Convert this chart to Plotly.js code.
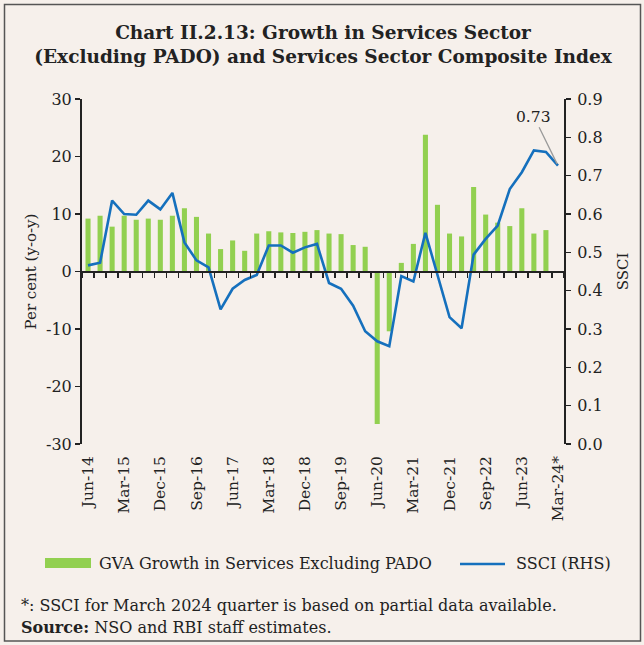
<!DOCTYPE html>
<html>
<head>
<meta charset="utf-8">
<script src="https://cdn.plot.ly/plotly-3.0.1.min.js"></script>
<style>
  html, body { margin: 0; padding: 0; background: #F6F0EB; }
  #chart { width: 644px; height: 645px; }
</style>
</head>
<body>
<div id="chart"></div>
<script>
// quarters, Jun-14 to Mar-24
var quarters = [
  'Jun-14', 'Sep-14', 'Dec-14', 'Mar-15', 'Jun-15', 'Sep-15', 'Dec-15', 'Mar-16',
  'Jun-16', 'Sep-16', 'Dec-16', 'Mar-17', 'Jun-17', 'Sep-17', 'Dec-17', 'Mar-18',
  'Jun-18', 'Sep-18', 'Dec-18', 'Mar-19', 'Jun-19', 'Sep-19', 'Dec-19', 'Mar-20',
  'Jun-20', 'Sep-20', 'Dec-20', 'Mar-21', 'Jun-21', 'Sep-21', 'Dec-21', 'Mar-22',
  'Jun-22', 'Sep-22', 'Dec-22', 'Mar-23', 'Jun-23', 'Sep-23', 'Dec-23', 'Mar-24'
];

// GVA growth in services excl. PADO (per cent, y-o-y); no bar for Mar-24
var gvaGrowth = [
  9.2, 9.7, 7.8, 9.7, 9.0, 9.2, 9.0, 9.7,
  11.0, 9.5, 6.6, 3.9, 5.4, 3.6, 6.6, 7.0,
  6.8, 6.7, 6.9, 7.2, 6.6, 6.5, 4.6, 4.3,
  -26.5, -10.4, 1.5, 4.8, 23.8, 11.6, 6.6, 6.1,
  14.7, 9.9, 8.5, 7.9, 11.0, 6.6, 7.2, null
];

// services sector composite index (RHS)
var ssci = [
  0.466, 0.473, 0.635, 0.600, 0.598, 0.635, 0.612, 0.655,
  0.526, 0.479, 0.461, 0.351, 0.405, 0.428, 0.441, 0.518,
  0.518, 0.499, 0.513, 0.522, 0.420, 0.405, 0.361, 0.294,
  0.268, 0.255, 0.438, 0.424, 0.551, 0.442, 0.331, 0.302,
  0.494, 0.535, 0.570, 0.665, 0.709, 0.766, 0.762, 0.726
];

var tickQuarters = ['Jun-14', 'Mar-15', 'Dec-15', 'Sep-16', 'Jun-17', 'Mar-18', 'Dec-18',
  'Sep-19', 'Jun-20', 'Mar-21', 'Dec-21', 'Sep-22', 'Jun-23', 'Mar-24'];
var tickLabels = ['Jun-14', 'Mar-15', 'Dec-15', 'Sep-16', 'Jun-17', 'Mar-18', 'Dec-18',
  'Sep-19', 'Jun-20', 'Mar-21', 'Dec-21', 'Sep-22', 'Jun-23', 'Mar-24*'];

// left axis ticks, written with a plain hyphen like the original
var leftTicks = [-30, -20, -10, 0, 10, 20, 30];
var leftTickText = ['-30', '-20', '-10', '0', '10', '20', '30'];

var green = '#92D050';
var blue = '#1570BD';
var ink = '#222222';
var serif = 'DejaVu Serif, serif';

// plot area in pixels, used to place the decorations
var L = 82, R = 80, T = 99, B = 201, W = 644, H = 645;
function px(x) { return (x - L) / (W - L - R); }
function py(y) { return (H - B - y) / (H - T - B); }

var traces = [
  {
    type: 'bar',
    x: quarters,
    y: gvaGrowth,
    width: 0.42,
    marker: {color: green},
    name: 'GVA Growth in Services Excluding PADO',
    showlegend: false,
    xaxis: 'x',
    yaxis: 'y'
  },
  {
    type: 'scatter',
    mode: 'lines',
    x: quarters,
    y: ssci,
    line: {color: blue, width: 2.6},
    name: 'SSCI (RHS)',
    showlegend: false,
    xaxis: 'x2',
    yaxis: 'y2'
  }
];

var tickFont = {family: serif, size: 16, color: ink};
var textFont = {family: serif, size: 16, color: ink};

var layout = {
  width: W,
  height: H,
  margin: {l: L, r: R, t: T, b: B},
  paper_bgcolor: '#F6F0EB',
  plot_bgcolor: '#F6F0EB',
  showlegend: false,
  title: {
    text: 'Chart II.2.13: Growth in Services Sector<br>(Excluding PADO) and Services Sector Composite Index',
    font: {family: serif, size: 18.5, color: ink, weight: 'bold'},
    x: 0.5,
    xref: 'paper',
    xanchor: 'center',
    y: 1 - 39 / H,
    yref: 'container',
    yanchor: 'middle'
  },
  xaxis: {
    type: 'category',
    range: [-0.5, 39.5],
    tickmode: 'array',
    tickvals: tickQuarters,
    ticktext: tickLabels,
    tickangle: -90,
    ticks: '',
    ticklabelstandoff: 8,
    showline: false,
    showgrid: false,
    zeroline: false,
    tickfont: {family: serif, size: 15.5, color: ink},
    fixedrange: true
  },
  xaxis2: {
    type: 'category',
    overlaying: 'x',
    anchor: 'free',
    position: 0.5,
    range: [-0.5, 39.5],
    tickmode: 'linear',
    dtick: 1,
    tickson: 'boundaries',
    ticks: 'outside',
    ticklen: 5,
    tickwidth: 1.5,
    tickcolor: ink,
    showticklabels: false,
    showline: true,
    linecolor: ink,
    linewidth: 2,
    showgrid: false,
    zeroline: false
  },
  yaxis: {
    range: [-30, 30],
    tickmode: 'array',
    tickvals: leftTicks,
    ticktext: leftTickText,
    ticks: 'outside',
    ticklen: 5,
    tickwidth: 1.5,
    tickcolor: ink,
    showline: true,
    linecolor: ink,
    linewidth: 2,
    showgrid: false,
    zeroline: false,
    tickfont: tickFont,
    title: {text: 'Per cent (y-o-y)', font: {family: serif, size: 15, color: ink}, standoff: 6}
  },
  yaxis2: {
    overlaying: 'y',
    side: 'right',
    anchor: 'x',
    range: [0, 0.9],
    dtick: 0.1,
    tickformat: '.1f',
    ticks: 'outside',
    ticklen: 5,
    tickwidth: 1.5,
    tickcolor: ink,
    ticklabelstandoff: 3,
    showline: true,
    linecolor: ink,
    linewidth: 2,
    showgrid: false,
    zeroline: false,
    tickfont: tickFont,
    title: {text: 'SSCI', font: {family: serif, size: 15, color: ink}, standoff: 16}
  },
  annotations: [
    {
      xref: 'x2', yref: 'y2',
      x: quarters[quarters.length - 1],
      y: ssci[ssci.length - 1],
      text: '0.73',
      showarrow: true,
      arrowhead: 0,
      arrowwidth: 1.3,
      arrowcolor: '#9a9a9a',
      ax: -24, ay: -49,
      standoff: 2,
      font: {family: serif, size: 15.5, color: ink}
    },
    // legend texts
    {
      xref: 'paper', yref: 'paper', x: px(97), y: py(563),
      xanchor: 'left', yanchor: 'middle', showarrow: false,
      text: 'GVA Growth in Services Excluding PADO',
      font: textFont
    },
    {
      xref: 'paper', yref: 'paper', x: px(514), y: py(563),
      xanchor: 'left', yanchor: 'middle', showarrow: false,
      text: 'SSCI (RHS)',
      font: textFont
    },
    // notes
    {
      xref: 'paper', yref: 'paper', x: px(19), y: py(605),
      xanchor: 'left', yanchor: 'middle', showarrow: false,
      text: '*: SSCI for March 2024 quarter is based on partial data available.',
      font: textFont
    },
    {
      xref: 'paper', yref: 'paper', x: px(19), y: py(627),
      xanchor: 'left', yanchor: 'middle', showarrow: false,
      text: '<b>Source:</b> NSO and RBI staff estimates.',
      font: textFont
    }
  ],
  shapes: [
    // legend swatches
    {type: 'rect', xref: 'paper', yref: 'paper',
      x0: px(45), x1: px(91), y0: py(568), y1: py(558),
      fillcolor: green, line: {width: 0}},
    {type: 'line', xref: 'paper', yref: 'paper',
      x0: px(460), x1: px(505), y0: py(564), y1: py(564),
      line: {color: blue, width: 2.6}},
    // frame round the chart
    {type: 'rect', xref: 'paper', yref: 'paper',
      x0: px(4.5), x1: px(640.5), y0: py(641), y1: py(4.5),
      line: {color: '#555555', width: 1.5}, layer: 'below'}
  ]
};

Plotly.newPlot('chart', traces, layout, {displayModeBar: false, staticPlot: true});
</script>
</body>
</html>
